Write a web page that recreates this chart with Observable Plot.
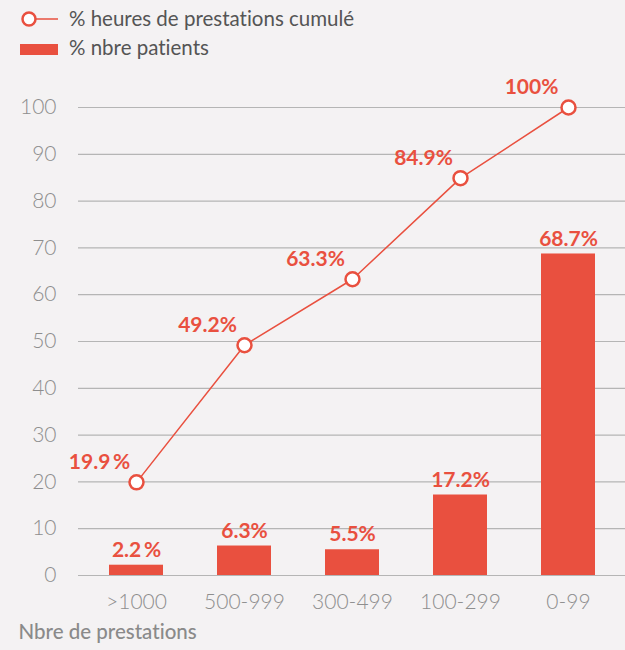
<!DOCTYPE html>
<html>
<head>
<meta charset="utf-8">
<script src="https://cdn.jsdelivr.net/npm/d3@7"></script>
<script src="https://cdn.jsdelivr.net/npm/@observablehq/plot@0.6"></script>
<style>
  html, body { margin: 0; padding: 0; background: #f4f2f3; }
  body { width: 625px; height: 650px; overflow: hidden; font-family: Lato, "Open Sans", sans-serif; font-variant-ligatures: none; }
  #legend { position: relative; height: 60px; }
  .leg { position: absolute; left: 0; font-size: 20.5px; color: #555; line-height: 24px; }
  svg text { font-family: Lato, "Open Sans", sans-serif; font-variant-ligatures: none; }
</style>
</head>
<body>
<div id="legend"></div>
<div id="chart"></div>
<script>
const categories = [">1000", "500-999", "300-499", "100-299", "0-99"];
const cumulHours = [19.9, 49.2, 63.3, 84.9, 100];
const patients = [2.2, 6.3, 5.5, 17.2, 68.7];
const cumulLabels = ["19.9\u2009%", "49.2%", "63.3%", "84.9%", "100%"];
const patientLabels = ["2.2\u2009%", "6.3%", "5.5%", "17.2%", "68.7%"];
const yTicks = [0, 10, 20, 30, 40, 50, 60, 70, 80, 90, 100];
const seriesNames = ["% heures de prestations cumulé", "% nbre patients"];
const xTitle = "Nbre de prestations";

const red = "#e9503f";
const data = categories.map((c, i) => ({
  cat: c, cumul: cumulHours[i], pat: patients[i],
  cumulLabel: cumulLabels[i], patLabel: patientLabels[i]
}));

// Legend
const legend = document.getElementById("legend");
legend.innerHTML = `
<svg width="70" height="60" style="position:absolute;left:0;top:0">
  <line x1="36" x2="58" y1="19" y2="19" stroke="${red}" stroke-width="1.5"/>
  <circle cx="29" cy="19" r="6.5" fill="#fff" stroke="${red}" stroke-width="2.5"/>
  <rect x="20" y="44" width="38" height="11" fill="${red}"/>
</svg>
<div class="leg" style="left:69px;top:6px">${seriesNames[0]}</div>
<div class="leg" style="left:69px;top:35px">${seriesNames[1]}</div>`;

const chart = Plot.plot({
  width: 625,
  height: 590,
  marginLeft: 81,
  marginRight: 1.5,
  marginTop: 47,
  marginBottom: 75,
  style: { background: "transparent", fontFamily: "Lato, 'Open Sans', sans-serif", fontSize: "21px", fontWeight: 300, color: "#8e8e8e", overflow: "visible" },
  x: { domain: categories, paddingInner: 0.5, paddingOuter: 0.25, label: null, tickSize: 0, tickPadding: 19 },
  y: { domain: [0, 100], ticks: yTicks, label: null, tickSize: 0, tickPadding: 25 },
  marks: [
    Plot.ruleY(yTicks, { stroke: "#b5b5b5", strokeWidth: 1.2, dx: -3, insetRight: -5 }),
    Plot.barY(data, { x: "cat", y: "pat", fill: red }),
    Plot.text(data, { x: "cat", y: "pat", text: "patLabel", dy: -15, fill: red, fontWeight: "bold", fontSize: 21 }),
    Plot.line(data, { x: "cat", y: "cumul", stroke: red, strokeWidth: 1.5 }),
    Plot.dot(data, { x: "cat", y: "cumul", r: 7, fill: "#fff", stroke: red, strokeWidth: 2.5 }),
    Plot.text(data, { x: "cat", y: "cumul", text: "cumulLabel", dx: -37, dy: -20, fill: red, fontWeight: "bold", fontSize: 21 }),
    Plot.text([xTitle], { frameAnchor: "bottom-left", dx: -63, dy: 63, text: d => d, fill: "#8a8a8a", fontSize: 20.5, fontWeight: 500, textAnchor: "start" })
  ]
});
document.getElementById("chart").appendChild(chart);
</script>
</body>
</html>
